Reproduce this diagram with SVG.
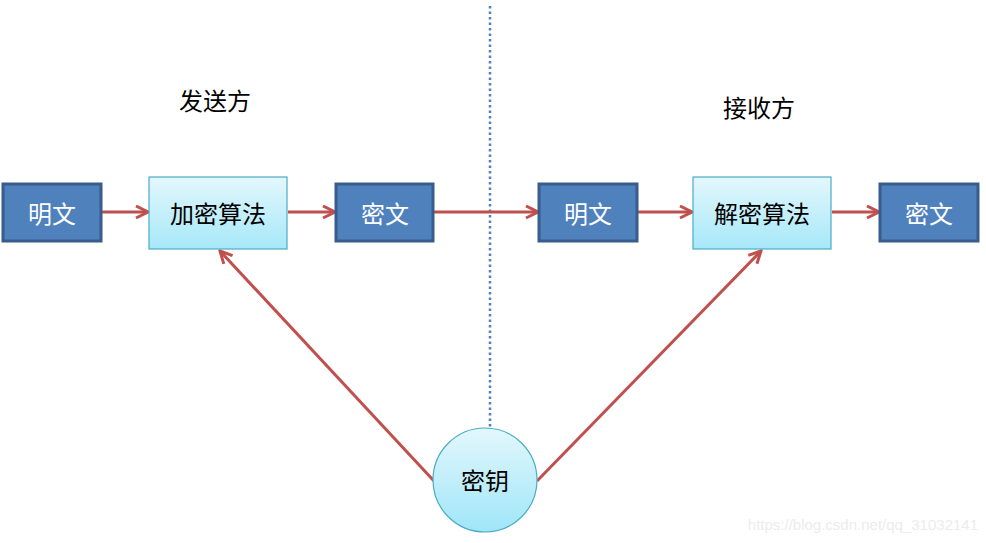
<svg xmlns="http://www.w3.org/2000/svg" width="986" height="543" viewBox="0 0 986 543">
<defs>
<linearGradient id="lg" x1="0" y1="0" x2="0" y2="1"><stop offset="0" stop-color="#E3F7FC"/><stop offset="1" stop-color="#A6E8F9"/></linearGradient>
<linearGradient id="cg" x1="0" y1="0" x2="0" y2="1"><stop offset="0" stop-color="#E3F7FC"/><stop offset="1" stop-color="#9FE6F8"/></linearGradient>
<marker id="ah" viewBox="0 0 10 10" refX="9" refY="5" markerWidth="5" markerHeight="5" orient="auto" markerUnits="strokeWidth">
<path d="M1,1 L9,5 L1,9" fill="none" stroke="#C0504D" stroke-width="2"/>
</marker>
</defs>
<style>
.t{font-family:"Noto Sans CJK SC","Liberation Sans",sans-serif;font-size:24px;text-anchor:middle;dominant-baseline:central}
.dark{fill:#4F81BD;stroke:#385D8A;stroke-width:3}
.light{fill:url(#lg);stroke:#4BACC6;stroke-width:1.2}
.w{fill:#fff}
.k{fill:#000}
.c{stroke:#C0504D;stroke-width:3;fill:none;marker-end:url(#ah)}
</style>
<rect width="986" height="543" fill="#fff"/>
<g id="divider"><line x1="490" y1="6" x2="490" y2="428" stroke="#4F81BD" stroke-width="2.5" stroke-dasharray="2.5 3"/></g>
<g id="connectors">
<line class="c" x1="102" y1="212" x2="148" y2="212"/>
<line class="c" x1="288" y1="212" x2="335" y2="212"/>
<line class="c" x1="434" y1="212" x2="538" y2="212"/>
<line class="c" x1="638" y1="212" x2="692" y2="212"/>
<line class="c" x1="832" y1="212" x2="879" y2="212"/>
<line class="c" x1="434" y1="481" x2="220" y2="251"/>
<line class="c" x1="537" y1="481" x2="761" y2="251"/>
</g>
<g id="sender-label"><text class="t k" x="215" y="99">发送方</text></g>
<g id="receiver-label"><text class="t k" x="759" y="106">接收方</text></g>
<g id="plain1"><rect class="dark" x="3" y="184" width="98" height="57"/><text class="t w" x="52" y="212">明文</text></g>
<g id="encrypt"><rect class="light" x="149" y="177" width="138" height="72"/><text class="t k" x="218" y="212">加密算法</text></g>
<g id="cipher1"><rect class="dark" x="336" y="184" width="97" height="57"/><text class="t w" x="385" y="212">密文</text></g>
<g id="plain2"><rect class="dark" x="539" y="184" width="98" height="57"/><text class="t w" x="588" y="212">明文</text></g>
<g id="decrypt"><rect class="light" x="693" y="177" width="138" height="72"/><text class="t k" x="762" y="212">解密算法</text></g>
<g id="cipher2"><rect class="dark" x="880" y="184" width="98" height="57"/><text class="t w" x="929" y="212">密文</text></g>
<g id="key"><circle cx="485" cy="480" r="52" fill="url(#cg)" stroke="#4BACC6" stroke-width="1.2"/><text class="t k" x="485" y="479">密钥</text></g>
<g id="watermark"><text x="978" y="530" font-family="Liberation Sans, sans-serif" font-size="15" fill="#ececec" text-anchor="end">https://blog.csdn.net/qq_31032141</text></g>
</svg>
